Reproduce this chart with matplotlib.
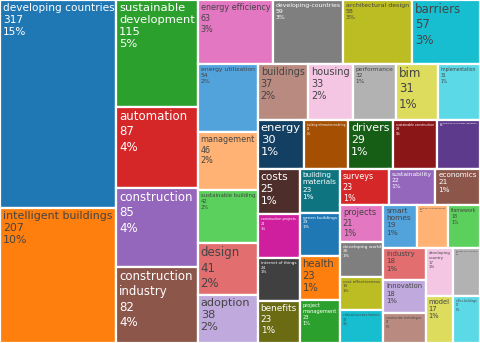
import matplotlib
matplotlib.use("Agg")
import matplotlib.pyplot as plt
from matplotlib.patches import Rectangle

# keywords and their frequencies (sorted by value, ties alphabetical)
labels = [
    "developing countries", "intelligent buildings", "sustainable development",
    "automation", "construction", "construction industry", "energy efficiency",
    "developing-countries", "architectural design", "barriers",
    "energy utilization", "management", "sustainable building", "design",
    "adoption", "buildings", "housing", "performance", "bim", "implementation",
    "energy", "building information modeling", "drivers",
    "sustainable construction", "building technologies adoption", "costs",
    "construction projects", "internet of things", "benefits",
    "building materials", "green buildings", "health", "project management",
    "surveys", "sustainability", "economics", "projects", "developing world",
    "cost effectiveness", "critical success factors", "smart homes",
    "energy management", "framework", "industry", "innovation",
    "construction technologies", "developing country", "energy performance",
    "model", "office buildings",
]
values = [
    317, 207, 115, 87, 85, 82, 63, 59, 58, 57,
    54, 46, 42, 41, 38, 37, 33, 32, 31, 31,
    30, 29, 29, 29, 28, 25, 24, 24, 23, 23,
    23, 23, 23, 23, 22, 21, 21, 20, 19, 19,
    19, 18, 18, 18, 18, 17, 17, 17, 17, 17,
]

# plotly-like colorway: base, lighter, darker
base = ["#1f77b4", "#ff7f0e", "#2ca02c", "#d62728", "#9467bd",
        "#8c564b", "#e377c2", "#7f7f7f", "#bcbd22", "#17becf"]
light = ["#52a2dc", "#ffb273", "#5cd05c", "#e36e6f", "#c0a9dd",
         "#b98a80", "#f4c6e4", "#b2b2b2", "#dddc5c", "#5cd9e6"]
dark = ["#133f63", "#a44f02", "#165e16", "#8a1618", "#5e3a8c",
        "#4e2e2a", "#cf1f9f", "#404040", "#6a6b13", "#0e7480"]
colorway = base + light + dark

# labels that are split over two lines in the reference
wrapped = {"sustainable development", "construction industry",
           "building materials", "project management", "smart homes",
           "developing country"}

W, H = 480, 343


def worst(row, side):
    s = sum(row)
    return max(max(side * side * r / (s * s), s * s / (side * side * r)) for r in row)


def squarify(areas, x, y, dx, dy):
    rects = []
    areas = list(areas)
    while areas:
        side = min(dx, dy)
        row = [areas[0]]
        i = 1
        while i < len(areas) and worst(row + [areas[i]], side) <= worst(row, side):
            row.append(areas[i])
            i += 1
        areas = areas[i:]
        s = sum(row)
        if dx >= dy:
            w = s / dy
            yy = y
            for a in row:
                h = a / w
                rects.append((x, yy, w, h))
                yy += h
            x += w
            dx -= w
        else:
            h = s / dx
            xx = x
            for a in row:
                w = a / h
                rects.append((xx, y, w, h))
                xx += w
            y += h
            dy -= h
    return rects


total = sum(values)
areas = [v * W * H / total for v in values]
rects = squarify(areas, 0, 0, W, H)

fig = plt.figure(figsize=(4.8, 3.43), dpi=100)
ax = fig.add_axes([0, 0, 1, 1])
ax.set_xlim(0, W)
ax.set_ylim(H, 0)
ax.axis("off")
renderer = fig.canvas.get_renderer()

maxpt = 8.5
pad = 3
for i, (lab, v, (x, y, w, h)) in enumerate(zip(labels, values, rects)):
    c = colorway[i % len(colorway)]
    ax.add_patch(Rectangle((x, y), w, h, facecolor=c, edgecolor="white", linewidth=1.6))
    r, g, b = [int(c[k:k + 2], 16) for k in (1, 3, 5)]
    bright = (r * 299 + g * 587 + b * 114) / 1000
    tc = "#444444" if bright > 128 else "white"
    name = lab.replace(" ", "\n", 1) if lab in wrapped else lab
    s = "%s\n%d\n%d%%" % (name, v, round(100 * v / total))
    t = ax.text(x + pad, y + pad, s, ha="left", va="top", fontsize=maxpt,
                color=tc, linespacing=1.25, family="DejaVu Sans")
    bb = t.get_window_extent(renderer)
    sc = min(1.0, (w - 2 * pad) / bb.width, (h - 2 * pad) / bb.height)
    t.set_fontsize(maxpt * sc)

fig.savefig("out.png", dpi=100)
